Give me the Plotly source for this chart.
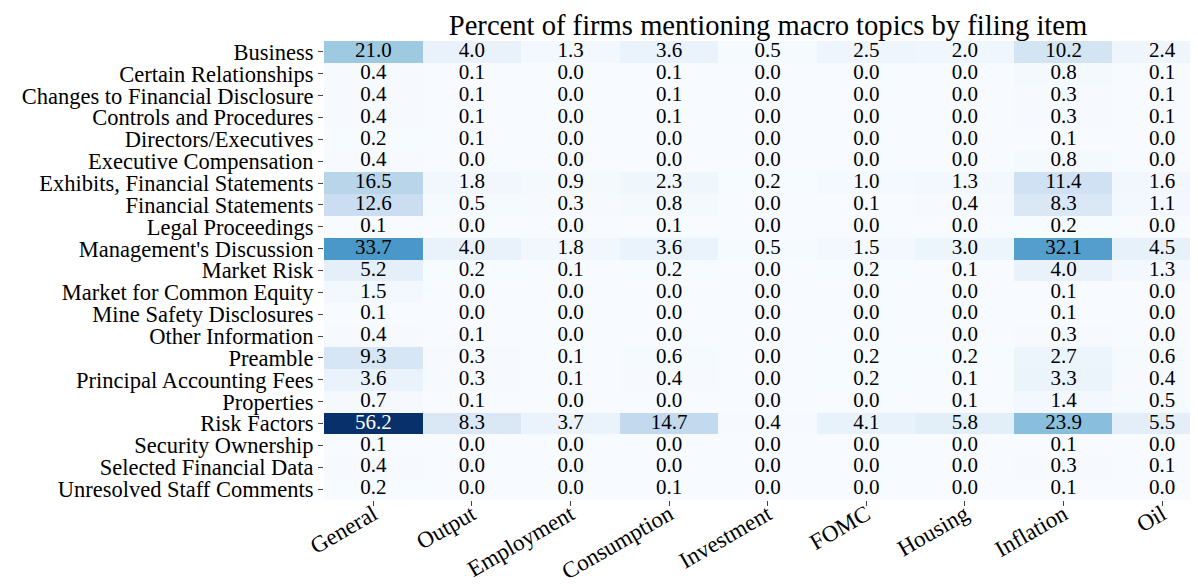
import plotly.graph_objects as go
import plotly.express as px

topics = ["General", "Output", "Employment", "Consumption", "Investment",
          "FOMC", "Housing", "Inflation", "Oil"]

items = ["Business", "Certain Relationships", "Changes to Financial Disclosure",
         "Controls and Procedures", "Directors/Executives", "Executive Compensation",
         "Exhibits, Financial Statements", "Financial Statements", "Legal Proceedings",
         "Management's Discussion", "Market Risk", "Market for Common Equity",
         "Mine Safety Disclosures", "Other Information", "Preamble",
         "Principal Accounting Fees", "Properties", "Risk Factors",
         "Security Ownership", "Selected Financial Data", "Unresolved Staff Comments"]

# percent of firms, rows = items, cols = topics
pct = [
    [21.0, 4.0, 1.3, 3.6, 0.5, 2.5, 2.0, 10.2, 2.4],
    [0.4, 0.1, 0.0, 0.1, 0.0, 0.0, 0.0, 0.8, 0.1],
    [0.4, 0.1, 0.0, 0.1, 0.0, 0.0, 0.0, 0.3, 0.1],
    [0.4, 0.1, 0.0, 0.1, 0.0, 0.0, 0.0, 0.3, 0.1],
    [0.2, 0.1, 0.0, 0.0, 0.0, 0.0, 0.0, 0.1, 0.0],
    [0.4, 0.0, 0.0, 0.0, 0.0, 0.0, 0.0, 0.8, 0.0],
    [16.5, 1.8, 0.9, 2.3, 0.2, 1.0, 1.3, 11.4, 1.6],
    [12.6, 0.5, 0.3, 0.8, 0.0, 0.1, 0.4, 8.3, 1.1],
    [0.1, 0.0, 0.0, 0.1, 0.0, 0.0, 0.0, 0.2, 0.0],
    [33.7, 4.0, 1.8, 3.6, 0.5, 1.5, 3.0, 32.1, 4.5],
    [5.2, 0.2, 0.1, 0.2, 0.0, 0.2, 0.1, 4.0, 1.3],
    [1.5, 0.0, 0.0, 0.0, 0.0, 0.0, 0.0, 0.1, 0.0],
    [0.1, 0.0, 0.0, 0.0, 0.0, 0.0, 0.0, 0.1, 0.0],
    [0.4, 0.1, 0.0, 0.0, 0.0, 0.0, 0.0, 0.3, 0.0],
    [9.3, 0.3, 0.1, 0.6, 0.0, 0.2, 0.2, 2.7, 0.6],
    [3.6, 0.3, 0.1, 0.4, 0.0, 0.2, 0.1, 3.3, 0.4],
    [0.7, 0.1, 0.0, 0.0, 0.0, 0.0, 0.1, 1.4, 0.5],
    [56.2, 8.3, 3.7, 14.7, 0.4, 4.1, 5.8, 23.9, 5.5],
    [0.1, 0.0, 0.0, 0.0, 0.0, 0.0, 0.0, 0.1, 0.0],
    [0.4, 0.0, 0.0, 0.0, 0.0, 0.0, 0.0, 0.3, 0.1],
    [0.2, 0.0, 0.0, 0.1, 0.0, 0.0, 0.0, 0.1, 0.0],
]

FONT = "Liberation Serif"
blues = px.colors.sequential.Blues
scale = [[i / (len(blues) - 1), c] for i, c in enumerate(blues)]

fig = go.Figure()
fig.add_trace(go.Heatmap(z=pct, x=topics, y=items, colorscale=scale,
                         zmin=0, zmax=max(max(r) for r in pct),
                         showscale=False, hoverinfo="skip"))

# cell labels as a text overlay so the colour can switch on dark cells
tx, ty, tt, tc = [], [], [], []
for i, row in enumerate(pct):
    for j, v in enumerate(row):
        tx.append(topics[j])
        ty.append(items[i])
        tt.append(f"{v:.1f}")
        tc.append("white" if v > 45 else "black")
fig.add_trace(go.Scatter(x=tx, y=ty, text=tt, mode="text",
                         textfont=dict(family=FONT, size=21, color=tc),
                         hoverinfo="skip", showlegend=False))

# page body adds an 8px offset, so the figure is sized to fit the window
W, H = 1190, 577
fig.update_layout(
    width=W, height=H,
    margin=dict(l=316, r=0, t=33, b=85),
    plot_bgcolor="white", paper_bgcolor="white",
    font=dict(family=FONT, color="black"),
    title=dict(text="Percent of firms mentioning macro topics by filing item",
               font=dict(family=FONT, size=28.6, color="black"),
               x=760 / W, xanchor="center", xref="container",
               y=1 - 17 / H, yanchor="middle", yref="container"),
    showlegend=False,
)
# last column runs past the right edge in the original, hence the clipped range
fig.update_xaxes(range=[-0.5, 8.364], tickangle=-30, ticks="outside", ticklen=5,
                 tickcolor="#444", showgrid=False, zeroline=False, showline=False,
                 automargin=False, tickmode="array", tickvals=topics, ticktext=topics,
                 ticklabelstandoff=-14, tickfont=dict(family=FONT, size=23))
fig.update_yaxes(range=[len(items) - 0.5, -0.5], ticks="outside", ticklen=5,
                 tickcolor="#444", showgrid=False, zeroline=False, showline=False,
                 automargin=False, tickmode="array", tickvals=items, ticktext=items,
                 tickfont=dict(family=FONT, size=22.5))

fig.write_html("out.html")
